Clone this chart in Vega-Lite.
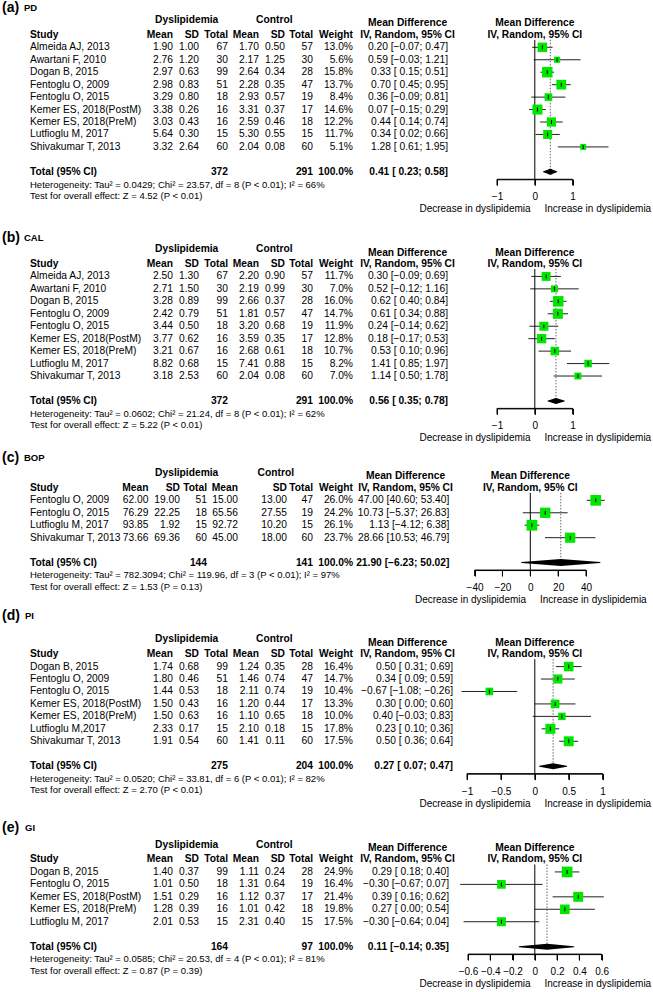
{
"$schema": "https://vega.github.io/schema/vega-lite/v6.json",
"padding": 0,
"background": "white",
"columns": 2,
"bounds": "flush",
"align": "none",
"spacing": {"row": 40, "column": 0},
"resolve": {"scale": {"size": "independent", "x": "independent", "y": "independent"}},
"config": {
  "view": {"stroke": null},
  "text": {"font": "Liberation Sans", "fontSize": 10.25, "baseline": "middle", "align": "right", "color": "black"},
  "axis": {"grid": false, "domain": true, "ticks": true, "domainColor": "black", "tickColor": "black", "labelColor": "black", "titleColor": "black", "labelFont": "Liberation Sans", "titleFont": "Liberation Sans", "labelFontSize": 10, "titleFontSize": 10, "titleFontWeight": "normal", "tickSize": 6, "labelPadding": 6.5, "titlePadding": 2, "labelFlush": false, "labelOverlap": false, "titleLimit": 1000}
},
"datasets": {
"tAB": [{"t":-1},{"t":0},{"t":1}],
"tC": [{"t":-40},{"t":-20},{"t":0},{"t":20},{"t":40}],
"tD": [{"t":-1},{"t":-0.5},{"t":0},{"t":0.5},{"t":1}],
"tE": [{"t":-0.6},{"t":-0.4},{"t":-0.2},{"t":0},{"t":0.2},{"t":0.4},{"t":0.6}],
"pd": [
{"order":0,"study":"Almeida AJ, 2013","m1":1.90,"sd1":1.00,"n1":67,"m2":1.70,"sd2":0.50,"n2":57,"w":0.130,"md":0.20,"lo":-0.07,"hi":0.47,"ci":"0.20 [−0.07; 0.47]"},
{"order":1,"study":"Awartani F, 2010","m1":2.76,"sd1":1.20,"n1":30,"m2":2.17,"sd2":1.25,"n2":30,"w":0.056,"md":0.59,"lo":-0.03,"hi":1.21,"ci":"0.59 [−0.03; 1.21]"},
{"order":2,"study":"Dogan B, 2015","m1":2.97,"sd1":0.63,"n1":99,"m2":2.64,"sd2":0.34,"n2":28,"w":0.158,"md":0.33,"lo":0.15,"hi":0.51,"ci":"0.33 [ 0.15; 0.51]"},
{"order":3,"study":"Fentoglu O, 2009","m1":2.98,"sd1":0.83,"n1":51,"m2":2.28,"sd2":0.35,"n2":47,"w":0.137,"md":0.70,"lo":0.45,"hi":0.95,"ci":"0.70 [ 0.45; 0.95]"},
{"order":4,"study":"Fentoglu O, 2015","m1":3.29,"sd1":0.80,"n1":18,"m2":2.93,"sd2":0.57,"n2":19,"w":0.084,"md":0.36,"lo":-0.09,"hi":0.81,"ci":"0.36 [−0.09; 0.81]"},
{"order":5,"study":"Kemer ES, 2018(PostM)","m1":3.38,"sd1":0.26,"n1":16,"m2":3.31,"sd2":0.37,"n2":17,"w":0.146,"md":0.07,"lo":-0.15,"hi":0.29,"ci":"0.07 [−0.15; 0.29]"},
{"order":6,"study":"Kemer ES, 2018(PreM)","m1":3.03,"sd1":0.43,"n1":16,"m2":2.59,"sd2":0.46,"n2":18,"w":0.122,"md":0.44,"lo":0.14,"hi":0.74,"ci":"0.44 [ 0.14; 0.74]"},
{"order":7,"study":"Lutfioglu M, 2017","m1":5.64,"sd1":0.30,"n1":15,"m2":5.30,"sd2":0.55,"n2":15,"w":0.117,"md":0.34,"lo":0.02,"hi":0.66,"ci":"0.34 [ 0.02; 0.66]"},
{"order":8,"study":"Shivakumar T, 2013","m1":3.32,"sd1":2.64,"n1":60,"m2":2.04,"sd2":0.08,"n2":60,"w":0.051,"md":1.28,"lo":0.61,"hi":1.95,"ci":"1.28 [ 0.61; 1.95]"}
],
"pdT": [{"n1":372,"n2":291,"w":1,"md":0.41,"lo":0.23,"hi":0.58,"ci":"0.41 [ 0.23; 0.58]","het":"Heterogeneity: Tau² = 0.0429; Chi² = 23.57, df = 8 (P < 0.01); I² = 66%","test":"Test for overall effect: Z = 4.52 (P < 0.01)"}],
"cal": [
{"order":0,"study":"Almeida AJ, 2013","m1":2.50,"sd1":1.30,"n1":67,"m2":2.20,"sd2":0.90,"n2":57,"w":0.117,"md":0.30,"lo":-0.09,"hi":0.69,"ci":"0.30 [−0.09; 0.69]"},
{"order":1,"study":"Awartani F, 2010","m1":2.71,"sd1":1.50,"n1":30,"m2":2.19,"sd2":0.99,"n2":30,"w":0.070,"md":0.52,"lo":-0.12,"hi":1.16,"ci":"0.52 [−0.12; 1.16]"},
{"order":2,"study":"Dogan B, 2015","m1":3.28,"sd1":0.89,"n1":99,"m2":2.66,"sd2":0.37,"n2":28,"w":0.160,"md":0.62,"lo":0.40,"hi":0.84,"ci":"0.62 [ 0.40; 0.84]"},
{"order":3,"study":"Fentoglu O, 2009","m1":2.42,"sd1":0.79,"n1":51,"m2":1.81,"sd2":0.57,"n2":47,"w":0.147,"md":0.61,"lo":0.34,"hi":0.88,"ci":"0.61 [ 0.34; 0.88]"},
{"order":4,"study":"Fentoglu O, 2015","m1":3.44,"sd1":0.50,"n1":18,"m2":3.20,"sd2":0.68,"n2":19,"w":0.119,"md":0.24,"lo":-0.14,"hi":0.62,"ci":"0.24 [−0.14; 0.62]"},
{"order":5,"study":"Kemer ES, 2018(PostM)","m1":3.77,"sd1":0.62,"n1":16,"m2":3.59,"sd2":0.35,"n2":17,"w":0.128,"md":0.18,"lo":-0.17,"hi":0.53,"ci":"0.18 [−0.17; 0.53]"},
{"order":6,"study":"Kemer ES, 2018(PreM)","m1":3.21,"sd1":0.67,"n1":16,"m2":2.68,"sd2":0.61,"n2":18,"w":0.107,"md":0.53,"lo":0.10,"hi":0.96,"ci":"0.53 [ 0.10; 0.96]"},
{"order":7,"study":"Lutfioglu M, 2017","m1":8.82,"sd1":0.68,"n1":15,"m2":7.41,"sd2":0.88,"n2":15,"w":0.082,"md":1.41,"lo":0.85,"hi":1.97,"ci":"1.41 [ 0.85; 1.97]"},
{"order":8,"study":"Shivakumar T, 2013","m1":3.18,"sd1":2.53,"n1":60,"m2":2.04,"sd2":0.08,"n2":60,"w":0.070,"md":1.14,"lo":0.50,"hi":1.78,"ci":"1.14 [ 0.50; 1.78]"}
],
"calT": [{"n1":372,"n2":291,"w":1,"md":0.56,"lo":0.35,"hi":0.78,"ci":"0.56 [ 0.35; 0.78]","het":"Heterogeneity: Tau² = 0.0602; Chi² = 21.24, df = 8 (P < 0.01); I² = 62%","test":"Test for overall effect: Z = 5.22 (P < 0.01)"}],
"bop": [
{"order":0,"study":"Fentoglu O, 2009","m1":62.00,"sd1":19.00,"n1":51,"m2":15.00,"sd2":13.00,"n2":47,"w":0.260,"md":47.00,"lo":40.60,"hi":53.40,"ci":"47.00 [40.60; 53.40]"},
{"order":1,"study":"Fentoglu O, 2015","m1":76.29,"sd1":22.25,"n1":18,"m2":65.56,"sd2":27.55,"n2":19,"w":0.242,"md":10.73,"lo":-5.37,"hi":26.83,"ci":"10.73 [−5.37; 26.83]"},
{"order":2,"study":"Lutfioglu M, 2017","m1":93.85,"sd1":1.92,"n1":15,"m2":92.72,"sd2":10.20,"n2":15,"w":0.261,"md":1.13,"lo":-4.12,"hi":6.38,"ci":"1.13 [−4.12; 6.38]"},
{"order":3,"study":"Shivakumar T, 2013","m1":73.66,"sd1":69.36,"n1":60,"m2":45.00,"sd2":18.00,"n2":60,"w":0.237,"md":28.66,"lo":10.53,"hi":46.79,"ci":"28.66 [10.53; 46.79]"}
],
"bopT": [{"n1":144,"n2":141,"w":1,"md":21.90,"lo":-6.23,"hi":50.02,"ci":"21.90 [−6.23; 50.02]","het":"Heterogeneity: Tau² = 782.3094; Chi² = 119.96, df = 3 (P < 0.01); I² = 97%","test":"Test for overall effect: Z = 1.53 (P = 0.13)"}],
"pi": [
{"order":0,"study":"Dogan B, 2015","m1":1.74,"sd1":0.68,"n1":99,"m2":1.24,"sd2":0.35,"n2":28,"w":0.164,"md":0.50,"lo":0.31,"hi":0.69,"ci":"0.50 [ 0.31; 0.69]"},
{"order":1,"study":"Fentoglu O, 2009","m1":1.80,"sd1":0.46,"n1":51,"m2":1.46,"sd2":0.74,"n2":47,"w":0.147,"md":0.34,"lo":0.09,"hi":0.59,"ci":"0.34 [ 0.09; 0.59]"},
{"order":2,"study":"Fentoglu O, 2015","m1":1.44,"sd1":0.53,"n1":18,"m2":2.11,"sd2":0.74,"n2":19,"w":0.104,"md":-0.67,"lo":-1.08,"hi":-0.26,"ci":"−0.67 [−1.08; −0.26]"},
{"order":3,"study":"Kemer ES, 2018(PostM)","m1":1.50,"sd1":0.43,"n1":16,"m2":1.20,"sd2":0.44,"n2":17,"w":0.133,"md":0.30,"lo":0.00,"hi":0.60,"ci":"0.30 [ 0.00; 0.60]"},
{"order":4,"study":"Kemer ES, 2018(PreM)","m1":1.50,"sd1":0.63,"n1":16,"m2":1.10,"sd2":0.65,"n2":18,"w":0.100,"md":0.40,"lo":-0.03,"hi":0.83,"ci":"0.40 [−0.03; 0.83]"},
{"order":5,"study":"Lutfioglu M,2017","m1":2.33,"sd1":0.17,"n1":15,"m2":2.10,"sd2":0.18,"n2":15,"w":0.178,"md":0.23,"lo":0.10,"hi":0.36,"ci":"0.23 [ 0.10; 0.36]"},
{"order":6,"study":"Shivakumar T, 2013","m1":1.91,"sd1":0.54,"n1":60,"m2":1.41,"sd2":0.11,"n2":60,"w":0.175,"md":0.50,"lo":0.36,"hi":0.64,"ci":"0.50 [ 0.36; 0.64]"}
],
"piT": [{"n1":275,"n2":204,"w":1,"md":0.27,"lo":0.07,"hi":0.47,"ci":"0.27 [ 0.07; 0.47]","het":"Heterogeneity: Tau² = 0.0520; Chi² = 33.81, df = 6 (P < 0.01); I² = 82%","test":"Test for overall effect: Z = 2.70 (P < 0.01)"}],
"gi": [
{"order":0,"study":"Dogan B, 2015","m1":1.40,"sd1":0.37,"n1":99,"m2":1.11,"sd2":0.24,"n2":28,"w":0.249,"md":0.29,"lo":0.18,"hi":0.40,"ci":"0.29 [ 0.18; 0.40]"},
{"order":1,"study":"Fentoglu O, 2015","m1":1.01,"sd1":0.50,"n1":18,"m2":1.31,"sd2":0.64,"n2":19,"w":0.164,"md":-0.30,"lo":-0.67,"hi":0.07,"ci":"−0.30 [−0.67; 0.07]"},
{"order":2,"study":"Kemer ES, 2018(PostM)","m1":1.51,"sd1":0.29,"n1":16,"m2":1.12,"sd2":0.37,"n2":17,"w":0.214,"md":0.39,"lo":0.16,"hi":0.62,"ci":"0.39 [ 0.16; 0.62]"},
{"order":3,"study":"Kemer ES, 2018(PreM)","m1":1.28,"sd1":0.39,"n1":16,"m2":1.01,"sd2":0.42,"n2":18,"w":0.198,"md":0.27,"lo":0.00,"hi":0.54,"ci":"0.27 [ 0.00; 0.54]"},
{"order":4,"study":"Lutfioglu M, 2017","m1":2.01,"sd1":0.53,"n1":15,"m2":2.31,"sd2":0.40,"n2":15,"w":0.175,"md":-0.30,"lo":-0.64,"hi":0.04,"ci":"−0.30 [−0.64; 0.04]"}
],
"giT": [{"n1":164,"n2":97,"w":1,"md":0.11,"lo":-0.14,"hi":0.35,"ci":"0.11 [−0.14; 0.35]","het":"Heterogeneity: Tau² = 0.0585; Chi² = 20.53, df = 4 (P < 0.01); I² = 81%","test":"Test for overall effect: Z = 0.87 (P = 0.39)"}]
},
"concat": [
{"width":466.7,"height":179.28,"data":{"name":"pd"},
"layer":[
{"mark":{"type":"text","align":"left"},"encoding":{"x":{"datum":30,"type":"quantitative","scale":{"domain":[0,466.7],"nice":false,"zero":false},"axis":null},"y":{"field":"order","type":"quantitative","scale":{"domain":[-3.8,10.6],"reverse":true,"nice":false,"zero":false},"axis":null},"text":{"field":"study"}}},
{"mark":"text","encoding":{"x":{"datum":173,"type":"quantitative","axis":null},"y":{"field":"order","type":"quantitative","axis":null},"text":{"field":"m1","format":".2f"}}},
{"mark":"text","encoding":{"x":{"datum":199,"type":"quantitative","axis":null},"y":{"field":"order","type":"quantitative","axis":null},"text":{"field":"sd1","format":".2f"}}},
{"mark":"text","encoding":{"x":{"datum":228,"type":"quantitative","axis":null},"y":{"field":"order","type":"quantitative","axis":null},"text":{"field":"n1"}}},
{"mark":"text","encoding":{"x":{"datum":259,"type":"quantitative","axis":null},"y":{"field":"order","type":"quantitative","axis":null},"text":{"field":"m2","format":".2f"}}},
{"mark":"text","encoding":{"x":{"datum":285,"type":"quantitative","axis":null},"y":{"field":"order","type":"quantitative","axis":null},"text":{"field":"sd2","format":".2f"}}},
{"mark":"text","encoding":{"x":{"datum":313,"type":"quantitative","axis":null},"y":{"field":"order","type":"quantitative","axis":null},"text":{"field":"n2"}}},
{"mark":"text","encoding":{"x":{"datum":353,"type":"quantitative","axis":null},"y":{"field":"order","type":"quantitative","axis":null},"text":{"field":"w","format":".1%"}}},
{"mark":"text","encoding":{"x":{"datum":448,"type":"quantitative","axis":null},"y":{"field":"order","type":"quantitative","axis":null},"text":{"field":"ci"}}},
{"data":{"name":"pdT"},"mark":{"type":"text","align":"left","fontWeight":"bold","fontSize":14},"encoding":{"x":{"datum":2,"type":"quantitative","axis":null},"y":{"datum":-3.15,"type":"quantitative","axis":null},"text":{"value":"(a)"}}},
{"data":{"name":"pdT"},"mark":{"type":"text","align":"left","fontWeight":"bold","fontSize":9.5},"encoding":{"x":{"datum":24,"type":"quantitative","axis":null},"y":{"datum":-3.15,"type":"quantitative","axis":null},"text":{"value":"PD"}}},
{"data":{"name":"pdT"},"mark":{"type":"text","align":"center","fontWeight":"bold"},"encoding":{"x":{"datum":186.7,"type":"quantitative","axis":null},"y":{"datum":-2.2,"type":"quantitative","axis":null},"text":{"value":"Dyslipidemia"}}},
{"data":{"name":"pdT"},"mark":{"type":"text","align":"center","fontWeight":"bold"},"encoding":{"x":{"datum":274.3,"type":"quantitative","axis":null},"y":{"datum":-2.2,"type":"quantitative","axis":null},"text":{"value":"Control"}}},
{"data":{"name":"pdT"},"mark":{"type":"text","align":"center","fontWeight":"bold"},"encoding":{"x":{"datum":407.5,"type":"quantitative","axis":null},"y":{"datum":-1.92,"type":"quantitative","axis":null},"text":{"value":"Mean Difference"}}},
{"data":{"name":"pdT"},"mark":{"type":"text","align":"left","fontWeight":"bold"},"encoding":{"x":{"datum":30,"type":"quantitative","axis":null},"y":{"datum":-1,"type":"quantitative","axis":null},"text":{"value":"Study"}}},
{"data":{"name":"pdT"},"mark":{"type":"text","fontWeight":"bold"},"encoding":{"x":{"datum":173,"type":"quantitative","axis":null},"y":{"datum":-1,"type":"quantitative","axis":null},"text":{"value":"Mean"}}},
{"data":{"name":"pdT"},"mark":{"type":"text","fontWeight":"bold"},"encoding":{"x":{"datum":199,"type":"quantitative","axis":null},"y":{"datum":-1,"type":"quantitative","axis":null},"text":{"value":"SD"}}},
{"data":{"name":"pdT"},"mark":{"type":"text","fontWeight":"bold"},"encoding":{"x":{"datum":228,"type":"quantitative","axis":null},"y":{"datum":-1,"type":"quantitative","axis":null},"text":{"value":"Total"}}},
{"data":{"name":"pdT"},"mark":{"type":"text","fontWeight":"bold"},"encoding":{"x":{"datum":259,"type":"quantitative","axis":null},"y":{"datum":-1,"type":"quantitative","axis":null},"text":{"value":"Mean"}}},
{"data":{"name":"pdT"},"mark":{"type":"text","fontWeight":"bold"},"encoding":{"x":{"datum":285,"type":"quantitative","axis":null},"y":{"datum":-1,"type":"quantitative","axis":null},"text":{"value":"SD"}}},
{"data":{"name":"pdT"},"mark":{"type":"text","fontWeight":"bold"},"encoding":{"x":{"datum":313,"type":"quantitative","axis":null},"y":{"datum":-1,"type":"quantitative","axis":null},"text":{"value":"Total"}}},
{"data":{"name":"pdT"},"mark":{"type":"text","fontWeight":"bold"},"encoding":{"x":{"datum":353,"type":"quantitative","axis":null},"y":{"datum":-1,"type":"quantitative","axis":null},"text":{"value":"Weight"}}},
{"data":{"name":"pdT"},"mark":{"type":"text","align":"center","fontWeight":"bold"},"encoding":{"x":{"datum":407.5,"type":"quantitative","axis":null},"y":{"datum":-1,"type":"quantitative","axis":null},"text":{"value":"IV, Random, 95% CI"}}},
{"data":{"name":"pdT"},"mark":{"type":"text","align":"left","fontWeight":"bold"},"encoding":{"x":{"datum":30,"type":"quantitative","axis":null},"y":{"datum":10,"type":"quantitative","axis":null},"text":{"value":"Total (95% CI)"}}},
{"data":{"name":"pdT"},"mark":{"type":"text","fontWeight":"bold"},"encoding":{"x":{"datum":228,"type":"quantitative","axis":null},"y":{"datum":10,"type":"quantitative","axis":null},"text":{"field":"n1"}}},
{"data":{"name":"pdT"},"mark":{"type":"text","fontWeight":"bold"},"encoding":{"x":{"datum":313,"type":"quantitative","axis":null},"y":{"datum":10,"type":"quantitative","axis":null},"text":{"field":"n2"}}},
{"data":{"name":"pdT"},"mark":{"type":"text","fontWeight":"bold"},"encoding":{"x":{"datum":353,"type":"quantitative","axis":null},"y":{"datum":10,"type":"quantitative","axis":null},"text":{"field":"w","format":".1%"}}},
{"data":{"name":"pdT"},"mark":{"type":"text","fontWeight":"bold"},"encoding":{"x":{"datum":448,"type":"quantitative","axis":null},"y":{"datum":10,"type":"quantitative","axis":null},"text":{"field":"ci"}}},
{"data":{"name":"pdT"},"mark":{"type":"text","align":"left","fontSize":9.5},"encoding":{"x":{"datum":30,"type":"quantitative","axis":null},"y":{"datum":11.02,"type":"quantitative","axis":null},"text":{"field":"het"}}},
{"data":{"name":"pdT"},"mark":{"type":"text","align":"left","fontSize":9.5},"encoding":{"x":{"datum":30,"type":"quantitative","axis":null},"y":{"datum":11.95,"type":"quantitative","axis":null},"text":{"field":"test"}}}
]},
{"width":186.3,"height":179.28,
"layer":[
{"data":{"name":"pd"},"mark":{"type":"rule","color":"#222","strokeWidth":1},"encoding":{"x":{"field":"lo","type":"quantitative","scale":{"domain":[-1,1],"range":[30,105.6],"nice":false,"zero":false},"axis":{"values":[-1,0,1],"format":"~r","labelOverlap":false,"labelFlush":false,"domain":true,"ticks":true,"title":"Decrease in dyslipidemia\u00a0\u00a0\u00a0\u00a0 Increase in dyslipidemia"}},"x2":{"field":"hi"},"y":{"field":"order","type":"quantitative","scale":{"domain":[-3.8,10.6],"reverse":true,"nice":false,"zero":false},"axis":null}}},
{"data":{"name":"pdT"},"mark":{"type":"rule","color":"black","strokeWidth":1},"encoding":{"x":{"datum":-1,"type":"quantitative","axis":{"values":[-1,0,1],"format":"~r","labelOverlap":false,"labelFlush":false,"domain":true,"ticks":true,"title":"Decrease in dyslipidemia\u00a0\u00a0\u00a0\u00a0 Increase in dyslipidemia"}},"x2":{"datum":1},"y":{"datum":10.6,"type":"quantitative","axis":null}}},
{"data":{"name":"tAB"},"mark":{"type":"rule","color":"black","strokeWidth":1},"encoding":{"x":{"field":"t","type":"quantitative","axis":{"values":[-1,0,1],"format":"~r","labelOverlap":false,"labelFlush":false,"domain":true,"ticks":true,"title":"Decrease in dyslipidemia\u00a0\u00a0\u00a0\u00a0 Increase in dyslipidemia"}},"y":{"datum":10.6,"type":"quantitative","axis":null},"y2":{"datum":11.08}}},
{"data":{"name":"pdT"},"mark":{"type":"rule","color":"black","strokeWidth":1},"encoding":{"x":{"datum":0,"type":"quantitative","axis":{"values":[-1,0,1],"format":"~r","labelOverlap":false,"labelFlush":false,"domain":true,"ticks":true,"title":"Decrease in dyslipidemia\u00a0\u00a0\u00a0\u00a0 Increase in dyslipidemia"}},"y":{"datum":-0.6,"type":"quantitative","axis":null},"y2":{"datum":10.6}}},
{"data":{"name":"pdT"},"mark":{"type":"rule","color":"#666","strokeWidth":1,"strokeDash":[1.5,1.5]},"encoding":{"x":{"field":"md","type":"quantitative","axis":{"values":[-1,0,1],"format":"~r","labelOverlap":false,"labelFlush":false,"domain":true,"ticks":true,"title":"Decrease in dyslipidemia\u00a0\u00a0\u00a0\u00a0 Increase in dyslipidemia"}},"y":{"datum":-0.6,"type":"quantitative","axis":null},"y2":{"datum":10}}},
{"data":{"name":"pd"},"mark":{"type":"point","shape":"square","filled":true,"color":"#00e600","opacity":1},"encoding":{"x":{"field":"md","type":"quantitative","axis":{"values":[-1,0,1],"format":"~r","labelOverlap":false,"labelFlush":false,"domain":true,"ticks":true,"title":"Decrease in dyslipidemia\u00a0\u00a0\u00a0\u00a0 Increase in dyslipidemia"}},"y":{"field":"order","type":"quantitative","axis":null},"size":{"field":"w","type":"quantitative","scale":{"domain":[0,0.158],"range":[0,110]},"legend":null}}},
{"data":{"name":"pd"},"mark":{"type":"tick","orient":"vertical","color":"black","size":4,"thickness":1,"opacity":1},"encoding":{"x":{"field":"md","type":"quantitative","axis":{"values":[-1,0,1],"format":"~r","labelOverlap":false,"labelFlush":false,"domain":true,"ticks":true,"title":"Decrease in dyslipidemia\u00a0\u00a0\u00a0\u00a0 Increase in dyslipidemia"}},"y":{"field":"order","type":"quantitative","axis":null}}},
{"data":{"name":"pdT"},"transform":[{"fold":["lo","md","hi"],"as":["k","v"]}],"mark":{"type":"trail","color":"black"},"encoding":{"x":{"field":"v","type":"quantitative","axis":{"values":[-1,0,1],"format":"~r","labelOverlap":false,"labelFlush":false,"domain":true,"ticks":true,"title":"Decrease in dyslipidemia\u00a0\u00a0\u00a0\u00a0 Increase in dyslipidemia"}},"y":{"datum":10,"type":"quantitative","axis":null},"size":{"condition":{"test":"datum.k === 'md'","value":6},"value":0}}},
{"data":{"name":"pdT"},"mark":{"type":"text","align":"center","fontWeight":"bold"},"encoding":{"x":{"datum":0,"type":"quantitative","axis":{"values":[-1,0,1],"format":"~r","labelOverlap":false,"labelFlush":false,"domain":true,"ticks":true,"title":"Decrease in dyslipidemia\u00a0\u00a0\u00a0\u00a0 Increase in dyslipidemia"}},"y":{"datum":-1.92,"type":"quantitative","axis":null},"text":{"value":"Mean Difference"}}},
{"data":{"name":"pdT"},"mark":{"type":"text","align":"center","fontWeight":"bold"},"encoding":{"x":{"datum":0,"type":"quantitative","axis":{"values":[-1,0,1],"format":"~r","labelOverlap":false,"labelFlush":false,"domain":true,"ticks":true,"title":"Decrease in dyslipidemia\u00a0\u00a0\u00a0\u00a0 Increase in dyslipidemia"}},"y":{"datum":-1,"type":"quantitative","axis":null},"text":{"value":"IV, Random, 95% CI"}}}
]},

{"width":466.7,"height":188.39,"data":{"name":"cal"},
"layer":[
{"mark":{"type":"text","align":"left"},"encoding":{"x":{"datum":30,"type":"quantitative","scale":{"domain":[0,466.7],"nice":false,"zero":false},"axis":null},"y":{"field":"order","type":"quantitative","scale":{"domain":[-4.532,10.6],"reverse":true,"nice":false,"zero":false},"axis":null},"text":{"field":"study"}}},
{"mark":"text","encoding":{"x":{"datum":173,"type":"quantitative","axis":null},"y":{"field":"order","type":"quantitative","axis":null},"text":{"field":"m1","format":".2f"}}},
{"mark":"text","encoding":{"x":{"datum":199,"type":"quantitative","axis":null},"y":{"field":"order","type":"quantitative","axis":null},"text":{"field":"sd1","format":".2f"}}},
{"mark":"text","encoding":{"x":{"datum":228,"type":"quantitative","axis":null},"y":{"field":"order","type":"quantitative","axis":null},"text":{"field":"n1"}}},
{"mark":"text","encoding":{"x":{"datum":259,"type":"quantitative","axis":null},"y":{"field":"order","type":"quantitative","axis":null},"text":{"field":"m2","format":".2f"}}},
{"mark":"text","encoding":{"x":{"datum":285,"type":"quantitative","axis":null},"y":{"field":"order","type":"quantitative","axis":null},"text":{"field":"sd2","format":".2f"}}},
{"mark":"text","encoding":{"x":{"datum":313,"type":"quantitative","axis":null},"y":{"field":"order","type":"quantitative","axis":null},"text":{"field":"n2"}}},
{"mark":"text","encoding":{"x":{"datum":353,"type":"quantitative","axis":null},"y":{"field":"order","type":"quantitative","axis":null},"text":{"field":"w","format":".1%"}}},
{"mark":"text","encoding":{"x":{"datum":448,"type":"quantitative","axis":null},"y":{"field":"order","type":"quantitative","axis":null},"text":{"field":"ci"}}},
{"data":{"name":"calT"},"mark":{"type":"text","align":"left","fontWeight":"bold","fontSize":14},"encoding":{"x":{"datum":2,"type":"quantitative","axis":null},"y":{"datum":-3.08,"type":"quantitative","axis":null},"text":{"value":"(b)"}}},
{"data":{"name":"calT"},"mark":{"type":"text","align":"left","fontWeight":"bold","fontSize":9.5},"encoding":{"x":{"datum":24,"type":"quantitative","axis":null},"y":{"datum":-3.08,"type":"quantitative","axis":null},"text":{"value":"CAL"}}},
{"data":{"name":"calT"},"mark":{"type":"text","align":"center","fontWeight":"bold"},"encoding":{"x":{"datum":186.7,"type":"quantitative","axis":null},"y":{"datum":-2.2,"type":"quantitative","axis":null},"text":{"value":"Dyslipidemia"}}},
{"data":{"name":"calT"},"mark":{"type":"text","align":"center","fontWeight":"bold"},"encoding":{"x":{"datum":274.3,"type":"quantitative","axis":null},"y":{"datum":-2.2,"type":"quantitative","axis":null},"text":{"value":"Control"}}},
{"data":{"name":"calT"},"mark":{"type":"text","align":"center","fontWeight":"bold"},"encoding":{"x":{"datum":407.5,"type":"quantitative","axis":null},"y":{"datum":-1.92,"type":"quantitative","axis":null},"text":{"value":"Mean Difference"}}},
{"data":{"name":"calT"},"mark":{"type":"text","align":"left","fontWeight":"bold"},"encoding":{"x":{"datum":30,"type":"quantitative","axis":null},"y":{"datum":-1,"type":"quantitative","axis":null},"text":{"value":"Study"}}},
{"data":{"name":"calT"},"mark":{"type":"text","fontWeight":"bold"},"encoding":{"x":{"datum":173,"type":"quantitative","axis":null},"y":{"datum":-1,"type":"quantitative","axis":null},"text":{"value":"Mean"}}},
{"data":{"name":"calT"},"mark":{"type":"text","fontWeight":"bold"},"encoding":{"x":{"datum":199,"type":"quantitative","axis":null},"y":{"datum":-1,"type":"quantitative","axis":null},"text":{"value":"SD"}}},
{"data":{"name":"calT"},"mark":{"type":"text","fontWeight":"bold"},"encoding":{"x":{"datum":228,"type":"quantitative","axis":null},"y":{"datum":-1,"type":"quantitative","axis":null},"text":{"value":"Total"}}},
{"data":{"name":"calT"},"mark":{"type":"text","fontWeight":"bold"},"encoding":{"x":{"datum":259,"type":"quantitative","axis":null},"y":{"datum":-1,"type":"quantitative","axis":null},"text":{"value":"Mean"}}},
{"data":{"name":"calT"},"mark":{"type":"text","fontWeight":"bold"},"encoding":{"x":{"datum":285,"type":"quantitative","axis":null},"y":{"datum":-1,"type":"quantitative","axis":null},"text":{"value":"SD"}}},
{"data":{"name":"calT"},"mark":{"type":"text","fontWeight":"bold"},"encoding":{"x":{"datum":313,"type":"quantitative","axis":null},"y":{"datum":-1,"type":"quantitative","axis":null},"text":{"value":"Total"}}},
{"data":{"name":"calT"},"mark":{"type":"text","fontWeight":"bold"},"encoding":{"x":{"datum":353,"type":"quantitative","axis":null},"y":{"datum":-1,"type":"quantitative","axis":null},"text":{"value":"Weight"}}},
{"data":{"name":"calT"},"mark":{"type":"text","align":"center","fontWeight":"bold"},"encoding":{"x":{"datum":407.5,"type":"quantitative","axis":null},"y":{"datum":-1,"type":"quantitative","axis":null},"text":{"value":"IV, Random, 95% CI"}}},
{"data":{"name":"calT"},"mark":{"type":"text","align":"left","fontWeight":"bold"},"encoding":{"x":{"datum":30,"type":"quantitative","axis":null},"y":{"datum":10,"type":"quantitative","axis":null},"text":{"value":"Total (95% CI)"}}},
{"data":{"name":"calT"},"mark":{"type":"text","fontWeight":"bold"},"encoding":{"x":{"datum":228,"type":"quantitative","axis":null},"y":{"datum":10,"type":"quantitative","axis":null},"text":{"field":"n1"}}},
{"data":{"name":"calT"},"mark":{"type":"text","fontWeight":"bold"},"encoding":{"x":{"datum":313,"type":"quantitative","axis":null},"y":{"datum":10,"type":"quantitative","axis":null},"text":{"field":"n2"}}},
{"data":{"name":"calT"},"mark":{"type":"text","fontWeight":"bold"},"encoding":{"x":{"datum":353,"type":"quantitative","axis":null},"y":{"datum":10,"type":"quantitative","axis":null},"text":{"field":"w","format":".1%"}}},
{"data":{"name":"calT"},"mark":{"type":"text","fontWeight":"bold"},"encoding":{"x":{"datum":448,"type":"quantitative","axis":null},"y":{"datum":10,"type":"quantitative","axis":null},"text":{"field":"ci"}}},
{"data":{"name":"calT"},"mark":{"type":"text","align":"left","fontSize":9.5},"encoding":{"x":{"datum":30,"type":"quantitative","axis":null},"y":{"datum":11.02,"type":"quantitative","axis":null},"text":{"field":"het"}}},
{"data":{"name":"calT"},"mark":{"type":"text","align":"left","fontSize":9.5},"encoding":{"x":{"datum":30,"type":"quantitative","axis":null},"y":{"datum":11.95,"type":"quantitative","axis":null},"text":{"field":"test"}}}
]},
{"width":186.3,"height":188.39,
"layer":[
{"data":{"name":"cal"},"mark":{"type":"rule","color":"#222","strokeWidth":1},"encoding":{"x":{"field":"lo","type":"quantitative","scale":{"domain":[-1,1],"range":[30,105.6],"nice":false,"zero":false},"axis":{"values":[-1,0,1],"format":"~r","labelOverlap":false,"labelFlush":false,"domain":true,"ticks":true,"title":"Decrease in dyslipidemia\u00a0\u00a0\u00a0\u00a0 Increase in dyslipidemia"}},"x2":{"field":"hi"},"y":{"field":"order","type":"quantitative","scale":{"domain":[-4.532,10.6],"reverse":true,"nice":false,"zero":false},"axis":null}}},
{"data":{"name":"calT"},"mark":{"type":"rule","color":"black","strokeWidth":1},"encoding":{"x":{"datum":-1,"type":"quantitative","axis":{"values":[-1,0,1],"format":"~r","labelOverlap":false,"labelFlush":false,"domain":true,"ticks":true,"title":"Decrease in dyslipidemia\u00a0\u00a0\u00a0\u00a0 Increase in dyslipidemia"}},"x2":{"datum":1},"y":{"datum":10.6,"type":"quantitative","axis":null}}},
{"data":{"name":"tAB"},"mark":{"type":"rule","color":"black","strokeWidth":1},"encoding":{"x":{"field":"t","type":"quantitative","axis":{"values":[-1,0,1],"format":"~r","labelOverlap":false,"labelFlush":false,"domain":true,"ticks":true,"title":"Decrease in dyslipidemia\u00a0\u00a0\u00a0\u00a0 Increase in dyslipidemia"}},"y":{"datum":10.6,"type":"quantitative","axis":null},"y2":{"datum":11.08}}},
{"data":{"name":"calT"},"mark":{"type":"rule","color":"black","strokeWidth":1},"encoding":{"x":{"datum":0,"type":"quantitative","axis":{"values":[-1,0,1],"format":"~r","labelOverlap":false,"labelFlush":false,"domain":true,"ticks":true,"title":"Decrease in dyslipidemia\u00a0\u00a0\u00a0\u00a0 Increase in dyslipidemia"}},"y":{"datum":-0.6,"type":"quantitative","axis":null},"y2":{"datum":10.6}}},
{"data":{"name":"calT"},"mark":{"type":"rule","color":"#666","strokeWidth":1,"strokeDash":[1.5,1.5]},"encoding":{"x":{"field":"md","type":"quantitative","axis":{"values":[-1,0,1],"format":"~r","labelOverlap":false,"labelFlush":false,"domain":true,"ticks":true,"title":"Decrease in dyslipidemia\u00a0\u00a0\u00a0\u00a0 Increase in dyslipidemia"}},"y":{"datum":-0.6,"type":"quantitative","axis":null},"y2":{"datum":10}}},
{"data":{"name":"cal"},"mark":{"type":"point","shape":"square","filled":true,"color":"#00e600","opacity":1},"encoding":{"x":{"field":"md","type":"quantitative","axis":{"values":[-1,0,1],"format":"~r","labelOverlap":false,"labelFlush":false,"domain":true,"ticks":true,"title":"Decrease in dyslipidemia\u00a0\u00a0\u00a0\u00a0 Increase in dyslipidemia"}},"y":{"field":"order","type":"quantitative","axis":null},"size":{"field":"w","type":"quantitative","scale":{"domain":[0,0.16],"range":[0,110]},"legend":null}}},
{"data":{"name":"cal"},"mark":{"type":"tick","orient":"vertical","color":"black","size":4,"thickness":1,"opacity":1},"encoding":{"x":{"field":"md","type":"quantitative","axis":{"values":[-1,0,1],"format":"~r","labelOverlap":false,"labelFlush":false,"domain":true,"ticks":true,"title":"Decrease in dyslipidemia\u00a0\u00a0\u00a0\u00a0 Increase in dyslipidemia"}},"y":{"field":"order","type":"quantitative","axis":null}}},
{"data":{"name":"calT"},"transform":[{"fold":["lo","md","hi"],"as":["k","v"]}],"mark":{"type":"trail","color":"black"},"encoding":{"x":{"field":"v","type":"quantitative","axis":{"values":[-1,0,1],"format":"~r","labelOverlap":false,"labelFlush":false,"domain":true,"ticks":true,"title":"Decrease in dyslipidemia\u00a0\u00a0\u00a0\u00a0 Increase in dyslipidemia"}},"y":{"datum":10,"type":"quantitative","axis":null},"size":{"condition":{"test":"datum.k === 'md'","value":6},"value":0}}},
{"data":{"name":"calT"},"mark":{"type":"text","align":"center","fontWeight":"bold"},"encoding":{"x":{"datum":0,"type":"quantitative","axis":{"values":[-1,0,1],"format":"~r","labelOverlap":false,"labelFlush":false,"domain":true,"ticks":true,"title":"Decrease in dyslipidemia\u00a0\u00a0\u00a0\u00a0 Increase in dyslipidemia"}},"y":{"datum":-1.92,"type":"quantitative","axis":null},"text":{"value":"Mean Difference"}}},
{"data":{"name":"calT"},"mark":{"type":"text","align":"center","fontWeight":"bold"},"encoding":{"x":{"datum":0,"type":"quantitative","axis":{"values":[-1,0,1],"format":"~r","labelOverlap":false,"labelFlush":false,"domain":true,"ticks":true,"title":"Decrease in dyslipidemia\u00a0\u00a0\u00a0\u00a0 Increase in dyslipidemia"}},"y":{"datum":-1,"type":"quantitative","axis":null},"text":{"value":"IV, Random, 95% CI"}}}
]},

{"width":466.7,"height":121.05,"data":{"name":"bop"},
"layer":[
{"mark":{"type":"text","align":"left"},"encoding":{"x":{"datum":30,"type":"quantitative","scale":{"domain":[0,466.7],"nice":false,"zero":false},"axis":null},"y":{"field":"order","type":"quantitative","scale":{"domain":[-4.123,5.6],"reverse":true,"nice":false,"zero":false},"axis":null},"text":{"field":"study"}}},
{"mark":"text","encoding":{"x":{"datum":148.5,"type":"quantitative","axis":null},"y":{"field":"order","type":"quantitative","axis":null},"text":{"field":"m1","format":".2f"}}},
{"mark":"text","encoding":{"x":{"datum":180,"type":"quantitative","axis":null},"y":{"field":"order","type":"quantitative","axis":null},"text":{"field":"sd1","format":".2f"}}},
{"mark":"text","encoding":{"x":{"datum":207,"type":"quantitative","axis":null},"y":{"field":"order","type":"quantitative","axis":null},"text":{"field":"n1"}}},
{"mark":"text","encoding":{"x":{"datum":238,"type":"quantitative","axis":null},"y":{"field":"order","type":"quantitative","axis":null},"text":{"field":"m2","format":".2f"}}},
{"mark":"text","encoding":{"x":{"datum":287,"type":"quantitative","axis":null},"y":{"field":"order","type":"quantitative","axis":null},"text":{"field":"sd2","format":".2f"}}},
{"mark":"text","encoding":{"x":{"datum":313,"type":"quantitative","axis":null},"y":{"field":"order","type":"quantitative","axis":null},"text":{"field":"n2"}}},
{"mark":"text","encoding":{"x":{"datum":353,"type":"quantitative","axis":null},"y":{"field":"order","type":"quantitative","axis":null},"text":{"field":"w","format":".1%"}}},
{"mark":"text","encoding":{"x":{"datum":449.3,"type":"quantitative","axis":null},"y":{"field":"order","type":"quantitative","axis":null},"text":{"field":"ci"}}},
{"data":{"name":"bopT"},"mark":{"type":"text","align":"left","fontWeight":"bold","fontSize":14},"encoding":{"x":{"datum":2,"type":"quantitative","axis":null},"y":{"datum":-3.4,"type":"quantitative","axis":null},"text":{"value":"(c)"}}},
{"data":{"name":"bopT"},"mark":{"type":"text","align":"left","fontWeight":"bold","fontSize":9.5},"encoding":{"x":{"datum":24,"type":"quantitative","axis":null},"y":{"datum":-3.4,"type":"quantitative","axis":null},"text":{"value":"BOP"}}},
{"data":{"name":"bopT"},"mark":{"type":"text","align":"center","fontWeight":"bold"},"encoding":{"x":{"datum":186.7,"type":"quantitative","axis":null},"y":{"datum":-2.2,"type":"quantitative","axis":null},"text":{"value":"Dyslipidemia"}}},
{"data":{"name":"bopT"},"mark":{"type":"text","align":"center","fontWeight":"bold"},"encoding":{"x":{"datum":275.8,"type":"quantitative","axis":null},"y":{"datum":-2.2,"type":"quantitative","axis":null},"text":{"value":"Control"}}},
{"data":{"name":"bopT"},"mark":{"type":"text","align":"center","fontWeight":"bold"},"encoding":{"x":{"datum":405.5,"type":"quantitative","axis":null},"y":{"datum":-1.92,"type":"quantitative","axis":null},"text":{"value":"Mean Difference"}}},
{"data":{"name":"bopT"},"mark":{"type":"text","align":"left","fontWeight":"bold"},"encoding":{"x":{"datum":30,"type":"quantitative","axis":null},"y":{"datum":-1,"type":"quantitative","axis":null},"text":{"value":"Study"}}},
{"data":{"name":"bopT"},"mark":{"type":"text","fontWeight":"bold"},"encoding":{"x":{"datum":148.5,"type":"quantitative","axis":null},"y":{"datum":-1,"type":"quantitative","axis":null},"text":{"value":"Mean"}}},
{"data":{"name":"bopT"},"mark":{"type":"text","fontWeight":"bold"},"encoding":{"x":{"datum":180,"type":"quantitative","axis":null},"y":{"datum":-1,"type":"quantitative","axis":null},"text":{"value":"SD"}}},
{"data":{"name":"bopT"},"mark":{"type":"text","fontWeight":"bold"},"encoding":{"x":{"datum":207,"type":"quantitative","axis":null},"y":{"datum":-1,"type":"quantitative","axis":null},"text":{"value":"Total"}}},
{"data":{"name":"bopT"},"mark":{"type":"text","fontWeight":"bold"},"encoding":{"x":{"datum":238,"type":"quantitative","axis":null},"y":{"datum":-1,"type":"quantitative","axis":null},"text":{"value":"Mean"}}},
{"data":{"name":"bopT"},"mark":{"type":"text","fontWeight":"bold"},"encoding":{"x":{"datum":287,"type":"quantitative","axis":null},"y":{"datum":-1,"type":"quantitative","axis":null},"text":{"value":"SD"}}},
{"data":{"name":"bopT"},"mark":{"type":"text","fontWeight":"bold"},"encoding":{"x":{"datum":313,"type":"quantitative","axis":null},"y":{"datum":-1,"type":"quantitative","axis":null},"text":{"value":"Total"}}},
{"data":{"name":"bopT"},"mark":{"type":"text","fontWeight":"bold"},"encoding":{"x":{"datum":353,"type":"quantitative","axis":null},"y":{"datum":-1,"type":"quantitative","axis":null},"text":{"value":"Weight"}}},
{"data":{"name":"bopT"},"mark":{"type":"text","align":"center","fontWeight":"bold"},"encoding":{"x":{"datum":405.5,"type":"quantitative","axis":null},"y":{"datum":-1,"type":"quantitative","axis":null},"text":{"value":"IV, Random, 95% CI"}}},
{"data":{"name":"bopT"},"mark":{"type":"text","align":"left","fontWeight":"bold"},"encoding":{"x":{"datum":30,"type":"quantitative","axis":null},"y":{"datum":5,"type":"quantitative","axis":null},"text":{"value":"Total (95% CI)"}}},
{"data":{"name":"bopT"},"mark":{"type":"text","fontWeight":"bold"},"encoding":{"x":{"datum":207,"type":"quantitative","axis":null},"y":{"datum":5,"type":"quantitative","axis":null},"text":{"field":"n1"}}},
{"data":{"name":"bopT"},"mark":{"type":"text","fontWeight":"bold"},"encoding":{"x":{"datum":313,"type":"quantitative","axis":null},"y":{"datum":5,"type":"quantitative","axis":null},"text":{"field":"n2"}}},
{"data":{"name":"bopT"},"mark":{"type":"text","fontWeight":"bold"},"encoding":{"x":{"datum":353,"type":"quantitative","axis":null},"y":{"datum":5,"type":"quantitative","axis":null},"text":{"field":"w","format":".1%"}}},
{"data":{"name":"bopT"},"mark":{"type":"text","fontWeight":"bold"},"encoding":{"x":{"datum":449.3,"type":"quantitative","axis":null},"y":{"datum":5,"type":"quantitative","axis":null},"text":{"field":"ci"}}},
{"data":{"name":"bopT"},"mark":{"type":"text","align":"left","fontSize":9.5},"encoding":{"x":{"datum":30,"type":"quantitative","axis":null},"y":{"datum":6.02,"type":"quantitative","axis":null},"text":{"field":"het"}}},
{"data":{"name":"bopT"},"mark":{"type":"text","align":"left","fontSize":9.5},"encoding":{"x":{"datum":30,"type":"quantitative","axis":null},"y":{"datum":6.95,"type":"quantitative","axis":null},"text":{"field":"test"}}}
]},
{"width":186.3,"height":121.05,
"layer":[
{"data":{"name":"bop"},"mark":{"type":"rule","color":"#222","strokeWidth":1},"encoding":{"x":{"field":"lo","type":"quantitative","scale":{"domain":[-40,40],"range":[7.6,119],"nice":false,"zero":false},"axis":{"values":[-40,-20,0,20,40],"format":"~r","labelOverlap":false,"labelFlush":false,"domain":true,"ticks":true,"title":"Decrease in dyslipidemia\u00a0\u00a0\u00a0\u00a0 Increase in dyslipidemia"}},"x2":{"field":"hi"},"y":{"field":"order","type":"quantitative","scale":{"domain":[-4.123,5.6],"reverse":true,"nice":false,"zero":false},"axis":null}}},
{"data":{"name":"bopT"},"mark":{"type":"rule","color":"black","strokeWidth":1},"encoding":{"x":{"datum":-40,"type":"quantitative","axis":{"values":[-40,-20,0,20,40],"format":"~r","labelOverlap":false,"labelFlush":false,"domain":true,"ticks":true,"title":"Decrease in dyslipidemia\u00a0\u00a0\u00a0\u00a0 Increase in dyslipidemia"}},"x2":{"datum":40},"y":{"datum":5.6,"type":"quantitative","axis":null}}},
{"data":{"name":"tC"},"mark":{"type":"rule","color":"black","strokeWidth":1},"encoding":{"x":{"field":"t","type":"quantitative","axis":{"values":[-40,-20,0,20,40],"format":"~r","labelOverlap":false,"labelFlush":false,"domain":true,"ticks":true,"title":"Decrease in dyslipidemia\u00a0\u00a0\u00a0\u00a0 Increase in dyslipidemia"}},"y":{"datum":5.6,"type":"quantitative","axis":null},"y2":{"datum":6.08}}},
{"data":{"name":"bopT"},"mark":{"type":"rule","color":"black","strokeWidth":1},"encoding":{"x":{"datum":0,"type":"quantitative","axis":{"values":[-40,-20,0,20,40],"format":"~r","labelOverlap":false,"labelFlush":false,"domain":true,"ticks":true,"title":"Decrease in dyslipidemia\u00a0\u00a0\u00a0\u00a0 Increase in dyslipidemia"}},"y":{"datum":-0.6,"type":"quantitative","axis":null},"y2":{"datum":5.6}}},
{"data":{"name":"bopT"},"mark":{"type":"rule","color":"#666","strokeWidth":1,"strokeDash":[1.5,1.5]},"encoding":{"x":{"field":"md","type":"quantitative","axis":{"values":[-40,-20,0,20,40],"format":"~r","labelOverlap":false,"labelFlush":false,"domain":true,"ticks":true,"title":"Decrease in dyslipidemia\u00a0\u00a0\u00a0\u00a0 Increase in dyslipidemia"}},"y":{"datum":-0.6,"type":"quantitative","axis":null},"y2":{"datum":5}}},
{"data":{"name":"bop"},"mark":{"type":"point","shape":"square","filled":true,"color":"#00e600","opacity":1},"encoding":{"x":{"field":"md","type":"quantitative","axis":{"values":[-40,-20,0,20,40],"format":"~r","labelOverlap":false,"labelFlush":false,"domain":true,"ticks":true,"title":"Decrease in dyslipidemia\u00a0\u00a0\u00a0\u00a0 Increase in dyslipidemia"}},"y":{"field":"order","type":"quantitative","axis":null},"size":{"field":"w","type":"quantitative","scale":{"domain":[0,0.261],"range":[0,115]},"legend":null}}},
{"data":{"name":"bop"},"mark":{"type":"tick","orient":"vertical","color":"black","size":4,"thickness":1,"opacity":1},"encoding":{"x":{"field":"md","type":"quantitative","axis":{"values":[-40,-20,0,20,40],"format":"~r","labelOverlap":false,"labelFlush":false,"domain":true,"ticks":true,"title":"Decrease in dyslipidemia\u00a0\u00a0\u00a0\u00a0 Increase in dyslipidemia"}},"y":{"field":"order","type":"quantitative","axis":null}}},
{"data":{"name":"bopT"},"transform":[{"fold":["lo","md","hi"],"as":["k","v"]}],"mark":{"type":"trail","color":"black"},"encoding":{"x":{"field":"v","type":"quantitative","axis":{"values":[-40,-20,0,20,40],"format":"~r","labelOverlap":false,"labelFlush":false,"domain":true,"ticks":true,"title":"Decrease in dyslipidemia\u00a0\u00a0\u00a0\u00a0 Increase in dyslipidemia"}},"y":{"datum":5,"type":"quantitative","axis":null},"size":{"condition":{"test":"datum.k === 'md'","value":7},"value":0}}},
{"data":{"name":"bopT"},"mark":{"type":"text","align":"center","fontWeight":"bold"},"encoding":{"x":{"datum":0,"type":"quantitative","axis":{"values":[-40,-20,0,20,40],"format":"~r","labelOverlap":false,"labelFlush":false,"domain":true,"ticks":true,"title":"Decrease in dyslipidemia\u00a0\u00a0\u00a0\u00a0 Increase in dyslipidemia"}},"y":{"datum":-1.92,"type":"quantitative","axis":null},"text":{"value":"Mean Difference"}}},
{"data":{"name":"bopT"},"mark":{"type":"text","align":"center","fontWeight":"bold"},"encoding":{"x":{"datum":0,"type":"quantitative","axis":{"values":[-40,-20,0,20,40],"format":"~r","labelOverlap":false,"labelFlush":false,"domain":true,"ticks":true,"title":"Decrease in dyslipidemia\u00a0\u00a0\u00a0\u00a0 Increase in dyslipidemia"}},"y":{"datum":-1,"type":"quantitative","axis":null},"text":{"value":"IV, Random, 95% CI"}}}
]},

{"width":466.7,"height":162.65,"data":{"name":"pi"},
"layer":[
{"mark":{"type":"text","align":"left"},"encoding":{"x":{"datum":30,"type":"quantitative","scale":{"domain":[0,466.7],"nice":false,"zero":false},"axis":null},"y":{"field":"order","type":"quantitative","scale":{"domain":[-4.464,8.6],"reverse":true,"nice":false,"zero":false},"axis":null},"text":{"field":"study"}}},
{"mark":"text","encoding":{"x":{"datum":173,"type":"quantitative","axis":null},"y":{"field":"order","type":"quantitative","axis":null},"text":{"field":"m1","format":".2f"}}},
{"mark":"text","encoding":{"x":{"datum":199,"type":"quantitative","axis":null},"y":{"field":"order","type":"quantitative","axis":null},"text":{"field":"sd1","format":".2f"}}},
{"mark":"text","encoding":{"x":{"datum":228,"type":"quantitative","axis":null},"y":{"field":"order","type":"quantitative","axis":null},"text":{"field":"n1"}}},
{"mark":"text","encoding":{"x":{"datum":259,"type":"quantitative","axis":null},"y":{"field":"order","type":"quantitative","axis":null},"text":{"field":"m2","format":".2f"}}},
{"mark":"text","encoding":{"x":{"datum":285,"type":"quantitative","axis":null},"y":{"field":"order","type":"quantitative","axis":null},"text":{"field":"sd2","format":".2f"}}},
{"mark":"text","encoding":{"x":{"datum":313,"type":"quantitative","axis":null},"y":{"field":"order","type":"quantitative","axis":null},"text":{"field":"n2"}}},
{"mark":"text","encoding":{"x":{"datum":353,"type":"quantitative","axis":null},"y":{"field":"order","type":"quantitative","axis":null},"text":{"field":"w","format":".1%"}}},
{"mark":"text","encoding":{"x":{"datum":453,"type":"quantitative","axis":null},"y":{"field":"order","type":"quantitative","axis":null},"text":{"field":"ci"}}},
{"data":{"name":"piT"},"mark":{"type":"text","align":"left","fontWeight":"bold","fontSize":14},"encoding":{"x":{"datum":2,"type":"quantitative","axis":null},"y":{"datum":-4.1,"type":"quantitative","axis":null},"text":{"value":"(d)"}}},
{"data":{"name":"piT"},"mark":{"type":"text","align":"left","fontWeight":"bold","fontSize":9.5},"encoding":{"x":{"datum":25,"type":"quantitative","axis":null},"y":{"datum":-4.1,"type":"quantitative","axis":null},"text":{"value":"PI"}}},
{"data":{"name":"piT"},"mark":{"type":"text","align":"center","fontWeight":"bold"},"encoding":{"x":{"datum":186.7,"type":"quantitative","axis":null},"y":{"datum":-2.2,"type":"quantitative","axis":null},"text":{"value":"Dyslipidemia"}}},
{"data":{"name":"piT"},"mark":{"type":"text","align":"center","fontWeight":"bold"},"encoding":{"x":{"datum":274.3,"type":"quantitative","axis":null},"y":{"datum":-2.2,"type":"quantitative","axis":null},"text":{"value":"Control"}}},
{"data":{"name":"piT"},"mark":{"type":"text","align":"center","fontWeight":"bold"},"encoding":{"x":{"datum":407.5,"type":"quantitative","axis":null},"y":{"datum":-1.92,"type":"quantitative","axis":null},"text":{"value":"Mean Difference"}}},
{"data":{"name":"piT"},"mark":{"type":"text","align":"left","fontWeight":"bold"},"encoding":{"x":{"datum":30,"type":"quantitative","axis":null},"y":{"datum":-1,"type":"quantitative","axis":null},"text":{"value":"Study"}}},
{"data":{"name":"piT"},"mark":{"type":"text","fontWeight":"bold"},"encoding":{"x":{"datum":173,"type":"quantitative","axis":null},"y":{"datum":-1,"type":"quantitative","axis":null},"text":{"value":"Mean"}}},
{"data":{"name":"piT"},"mark":{"type":"text","fontWeight":"bold"},"encoding":{"x":{"datum":199,"type":"quantitative","axis":null},"y":{"datum":-1,"type":"quantitative","axis":null},"text":{"value":"SD"}}},
{"data":{"name":"piT"},"mark":{"type":"text","fontWeight":"bold"},"encoding":{"x":{"datum":228,"type":"quantitative","axis":null},"y":{"datum":-1,"type":"quantitative","axis":null},"text":{"value":"Total"}}},
{"data":{"name":"piT"},"mark":{"type":"text","fontWeight":"bold"},"encoding":{"x":{"datum":259,"type":"quantitative","axis":null},"y":{"datum":-1,"type":"quantitative","axis":null},"text":{"value":"Mean"}}},
{"data":{"name":"piT"},"mark":{"type":"text","fontWeight":"bold"},"encoding":{"x":{"datum":285,"type":"quantitative","axis":null},"y":{"datum":-1,"type":"quantitative","axis":null},"text":{"value":"SD"}}},
{"data":{"name":"piT"},"mark":{"type":"text","fontWeight":"bold"},"encoding":{"x":{"datum":313,"type":"quantitative","axis":null},"y":{"datum":-1,"type":"quantitative","axis":null},"text":{"value":"Total"}}},
{"data":{"name":"piT"},"mark":{"type":"text","fontWeight":"bold"},"encoding":{"x":{"datum":353,"type":"quantitative","axis":null},"y":{"datum":-1,"type":"quantitative","axis":null},"text":{"value":"Weight"}}},
{"data":{"name":"piT"},"mark":{"type":"text","align":"center","fontWeight":"bold"},"encoding":{"x":{"datum":407.5,"type":"quantitative","axis":null},"y":{"datum":-1,"type":"quantitative","axis":null},"text":{"value":"IV, Random, 95% CI"}}},
{"data":{"name":"piT"},"mark":{"type":"text","align":"left","fontWeight":"bold"},"encoding":{"x":{"datum":30,"type":"quantitative","axis":null},"y":{"datum":8,"type":"quantitative","axis":null},"text":{"value":"Total (95% CI)"}}},
{"data":{"name":"piT"},"mark":{"type":"text","fontWeight":"bold"},"encoding":{"x":{"datum":228,"type":"quantitative","axis":null},"y":{"datum":8,"type":"quantitative","axis":null},"text":{"field":"n1"}}},
{"data":{"name":"piT"},"mark":{"type":"text","fontWeight":"bold"},"encoding":{"x":{"datum":313,"type":"quantitative","axis":null},"y":{"datum":8,"type":"quantitative","axis":null},"text":{"field":"n2"}}},
{"data":{"name":"piT"},"mark":{"type":"text","fontWeight":"bold"},"encoding":{"x":{"datum":353,"type":"quantitative","axis":null},"y":{"datum":8,"type":"quantitative","axis":null},"text":{"field":"w","format":".1%"}}},
{"data":{"name":"piT"},"mark":{"type":"text","fontWeight":"bold"},"encoding":{"x":{"datum":453,"type":"quantitative","axis":null},"y":{"datum":8,"type":"quantitative","axis":null},"text":{"field":"ci"}}},
{"data":{"name":"piT"},"mark":{"type":"text","align":"left","fontSize":9.5},"encoding":{"x":{"datum":30,"type":"quantitative","axis":null},"y":{"datum":9.02,"type":"quantitative","axis":null},"text":{"field":"het"}}},
{"data":{"name":"piT"},"mark":{"type":"text","align":"left","fontSize":9.5},"encoding":{"x":{"datum":30,"type":"quantitative","axis":null},"y":{"datum":9.95,"type":"quantitative","axis":null},"text":{"field":"test"}}}
]},
{"width":186.3,"height":162.65,
"layer":[
{"data":{"name":"pi"},"mark":{"type":"rule","color":"#222","strokeWidth":1},"encoding":{"x":{"field":"lo","type":"quantitative","scale":{"domain":[-1,1],"range":[0,135.6],"nice":false,"zero":false},"axis":{"values":[-1,-0.5,0,0.5,1],"format":"~r","labelOverlap":false,"labelFlush":false,"domain":true,"ticks":true,"title":"Decrease in dyslipidemia\u00a0\u00a0\u00a0\u00a0 Increase in dyslipidemia"}},"x2":{"field":"hi"},"y":{"field":"order","type":"quantitative","scale":{"domain":[-4.464,8.6],"reverse":true,"nice":false,"zero":false},"axis":null}}},
{"data":{"name":"piT"},"mark":{"type":"rule","color":"black","strokeWidth":1},"encoding":{"x":{"datum":-1,"type":"quantitative","axis":{"values":[-1,-0.5,0,0.5,1],"format":"~r","labelOverlap":false,"labelFlush":false,"domain":true,"ticks":true,"title":"Decrease in dyslipidemia\u00a0\u00a0\u00a0\u00a0 Increase in dyslipidemia"}},"x2":{"datum":1},"y":{"datum":8.6,"type":"quantitative","axis":null}}},
{"data":{"name":"tD"},"mark":{"type":"rule","color":"black","strokeWidth":1},"encoding":{"x":{"field":"t","type":"quantitative","axis":{"values":[-1,-0.5,0,0.5,1],"format":"~r","labelOverlap":false,"labelFlush":false,"domain":true,"ticks":true,"title":"Decrease in dyslipidemia\u00a0\u00a0\u00a0\u00a0 Increase in dyslipidemia"}},"y":{"datum":8.6,"type":"quantitative","axis":null},"y2":{"datum":9.08}}},
{"data":{"name":"piT"},"mark":{"type":"rule","color":"black","strokeWidth":1},"encoding":{"x":{"datum":0,"type":"quantitative","axis":{"values":[-1,-0.5,0,0.5,1],"format":"~r","labelOverlap":false,"labelFlush":false,"domain":true,"ticks":true,"title":"Decrease in dyslipidemia\u00a0\u00a0\u00a0\u00a0 Increase in dyslipidemia"}},"y":{"datum":-0.6,"type":"quantitative","axis":null},"y2":{"datum":8.6}}},
{"data":{"name":"piT"},"mark":{"type":"rule","color":"#666","strokeWidth":1,"strokeDash":[1.5,1.5]},"encoding":{"x":{"field":"md","type":"quantitative","axis":{"values":[-1,-0.5,0,0.5,1],"format":"~r","labelOverlap":false,"labelFlush":false,"domain":true,"ticks":true,"title":"Decrease in dyslipidemia\u00a0\u00a0\u00a0\u00a0 Increase in dyslipidemia"}},"y":{"datum":-0.6,"type":"quantitative","axis":null},"y2":{"datum":8}}},
{"data":{"name":"pi"},"mark":{"type":"point","shape":"square","filled":true,"color":"#00e600","opacity":1},"encoding":{"x":{"field":"md","type":"quantitative","axis":{"values":[-1,-0.5,0,0.5,1],"format":"~r","labelOverlap":false,"labelFlush":false,"domain":true,"ticks":true,"title":"Decrease in dyslipidemia\u00a0\u00a0\u00a0\u00a0 Increase in dyslipidemia"}},"y":{"field":"order","type":"quantitative","axis":null},"size":{"field":"w","type":"quantitative","scale":{"domain":[0,0.178],"range":[0,100]},"legend":null}}},
{"data":{"name":"pi"},"mark":{"type":"tick","orient":"vertical","color":"black","size":4,"thickness":1,"opacity":1},"encoding":{"x":{"field":"md","type":"quantitative","axis":{"values":[-1,-0.5,0,0.5,1],"format":"~r","labelOverlap":false,"labelFlush":false,"domain":true,"ticks":true,"title":"Decrease in dyslipidemia\u00a0\u00a0\u00a0\u00a0 Increase in dyslipidemia"}},"y":{"field":"order","type":"quantitative","axis":null}}},
{"data":{"name":"piT"},"transform":[{"fold":["lo","md","hi"],"as":["k","v"]}],"mark":{"type":"trail","color":"black"},"encoding":{"x":{"field":"v","type":"quantitative","axis":{"values":[-1,-0.5,0,0.5,1],"format":"~r","labelOverlap":false,"labelFlush":false,"domain":true,"ticks":true,"title":"Decrease in dyslipidemia\u00a0\u00a0\u00a0\u00a0 Increase in dyslipidemia"}},"y":{"datum":8,"type":"quantitative","axis":null},"size":{"condition":{"test":"datum.k === 'md'","value":6},"value":0}}},
{"data":{"name":"piT"},"mark":{"type":"text","align":"center","fontWeight":"bold"},"encoding":{"x":{"datum":0,"type":"quantitative","axis":{"values":[-1,-0.5,0,0.5,1],"format":"~r","labelOverlap":false,"labelFlush":false,"domain":true,"ticks":true,"title":"Decrease in dyslipidemia\u00a0\u00a0\u00a0\u00a0 Increase in dyslipidemia"}},"y":{"datum":-1.92,"type":"quantitative","axis":null},"text":{"value":"Mean Difference"}}},
{"data":{"name":"piT"},"mark":{"type":"text","align":"center","fontWeight":"bold"},"encoding":{"x":{"datum":0,"type":"quantitative","axis":{"values":[-1,-0.5,0,0.5,1],"format":"~r","labelOverlap":false,"labelFlush":false,"domain":true,"ticks":true,"title":"Decrease in dyslipidemia\u00a0\u00a0\u00a0\u00a0 Increase in dyslipidemia"}},"y":{"datum":-1,"type":"quantitative","axis":null},"text":{"value":"IV, Random, 95% CI"}}}
]},

{"width":466.7,"height":140.1,"data":{"name":"gi"},
"layer":[
{"mark":{"type":"text","align":"left"},"encoding":{"x":{"datum":30,"type":"quantitative","scale":{"domain":[0,466.7],"nice":false,"zero":false},"axis":null},"y":{"field":"order","type":"quantitative","scale":{"domain":[-4.653,6.6],"reverse":true,"nice":false,"zero":false},"axis":null},"text":{"field":"study"}}},
{"mark":"text","encoding":{"x":{"datum":173,"type":"quantitative","axis":null},"y":{"field":"order","type":"quantitative","axis":null},"text":{"field":"m1","format":".2f"}}},
{"mark":"text","encoding":{"x":{"datum":199,"type":"quantitative","axis":null},"y":{"field":"order","type":"quantitative","axis":null},"text":{"field":"sd1","format":".2f"}}},
{"mark":"text","encoding":{"x":{"datum":228,"type":"quantitative","axis":null},"y":{"field":"order","type":"quantitative","axis":null},"text":{"field":"n1"}}},
{"mark":"text","encoding":{"x":{"datum":259,"type":"quantitative","axis":null},"y":{"field":"order","type":"quantitative","axis":null},"text":{"field":"m2","format":".2f"}}},
{"mark":"text","encoding":{"x":{"datum":285,"type":"quantitative","axis":null},"y":{"field":"order","type":"quantitative","axis":null},"text":{"field":"sd2","format":".2f"}}},
{"mark":"text","encoding":{"x":{"datum":313,"type":"quantitative","axis":null},"y":{"field":"order","type":"quantitative","axis":null},"text":{"field":"n2"}}},
{"mark":"text","encoding":{"x":{"datum":353,"type":"quantitative","axis":null},"y":{"field":"order","type":"quantitative","axis":null},"text":{"field":"w","format":".1%"}}},
{"mark":"text","encoding":{"x":{"datum":449,"type":"quantitative","axis":null},"y":{"field":"order","type":"quantitative","axis":null},"text":{"field":"ci"}}},
{"data":{"name":"giT"},"mark":{"type":"text","align":"left","fontWeight":"bold","fontSize":14},"encoding":{"x":{"datum":2,"type":"quantitative","axis":null},"y":{"datum":-3.56,"type":"quantitative","axis":null},"text":{"value":"(e)"}}},
{"data":{"name":"giT"},"mark":{"type":"text","align":"left","fontWeight":"bold","fontSize":9.5},"encoding":{"x":{"datum":25,"type":"quantitative","axis":null},"y":{"datum":-3.56,"type":"quantitative","axis":null},"text":{"value":"GI"}}},
{"data":{"name":"giT"},"mark":{"type":"text","align":"center","fontWeight":"bold"},"encoding":{"x":{"datum":186.7,"type":"quantitative","axis":null},"y":{"datum":-2.2,"type":"quantitative","axis":null},"text":{"value":"Dyslipidemia"}}},
{"data":{"name":"giT"},"mark":{"type":"text","align":"center","fontWeight":"bold"},"encoding":{"x":{"datum":274.3,"type":"quantitative","axis":null},"y":{"datum":-2.2,"type":"quantitative","axis":null},"text":{"value":"Control"}}},
{"data":{"name":"giT"},"mark":{"type":"text","align":"center","fontWeight":"bold"},"encoding":{"x":{"datum":407.5,"type":"quantitative","axis":null},"y":{"datum":-1.92,"type":"quantitative","axis":null},"text":{"value":"Mean Difference"}}},
{"data":{"name":"giT"},"mark":{"type":"text","align":"left","fontWeight":"bold"},"encoding":{"x":{"datum":30,"type":"quantitative","axis":null},"y":{"datum":-1,"type":"quantitative","axis":null},"text":{"value":"Study"}}},
{"data":{"name":"giT"},"mark":{"type":"text","fontWeight":"bold"},"encoding":{"x":{"datum":173,"type":"quantitative","axis":null},"y":{"datum":-1,"type":"quantitative","axis":null},"text":{"value":"Mean"}}},
{"data":{"name":"giT"},"mark":{"type":"text","fontWeight":"bold"},"encoding":{"x":{"datum":199,"type":"quantitative","axis":null},"y":{"datum":-1,"type":"quantitative","axis":null},"text":{"value":"SD"}}},
{"data":{"name":"giT"},"mark":{"type":"text","fontWeight":"bold"},"encoding":{"x":{"datum":228,"type":"quantitative","axis":null},"y":{"datum":-1,"type":"quantitative","axis":null},"text":{"value":"Total"}}},
{"data":{"name":"giT"},"mark":{"type":"text","fontWeight":"bold"},"encoding":{"x":{"datum":259,"type":"quantitative","axis":null},"y":{"datum":-1,"type":"quantitative","axis":null},"text":{"value":"Mean"}}},
{"data":{"name":"giT"},"mark":{"type":"text","fontWeight":"bold"},"encoding":{"x":{"datum":285,"type":"quantitative","axis":null},"y":{"datum":-1,"type":"quantitative","axis":null},"text":{"value":"SD"}}},
{"data":{"name":"giT"},"mark":{"type":"text","fontWeight":"bold"},"encoding":{"x":{"datum":313,"type":"quantitative","axis":null},"y":{"datum":-1,"type":"quantitative","axis":null},"text":{"value":"Total"}}},
{"data":{"name":"giT"},"mark":{"type":"text","fontWeight":"bold"},"encoding":{"x":{"datum":353,"type":"quantitative","axis":null},"y":{"datum":-1,"type":"quantitative","axis":null},"text":{"value":"Weight"}}},
{"data":{"name":"giT"},"mark":{"type":"text","align":"center","fontWeight":"bold"},"encoding":{"x":{"datum":407.5,"type":"quantitative","axis":null},"y":{"datum":-1,"type":"quantitative","axis":null},"text":{"value":"IV, Random, 95% CI"}}},
{"data":{"name":"giT"},"mark":{"type":"text","align":"left","fontWeight":"bold"},"encoding":{"x":{"datum":30,"type":"quantitative","axis":null},"y":{"datum":6,"type":"quantitative","axis":null},"text":{"value":"Total (95% CI)"}}},
{"data":{"name":"giT"},"mark":{"type":"text","fontWeight":"bold"},"encoding":{"x":{"datum":228,"type":"quantitative","axis":null},"y":{"datum":6,"type":"quantitative","axis":null},"text":{"field":"n1"}}},
{"data":{"name":"giT"},"mark":{"type":"text","fontWeight":"bold"},"encoding":{"x":{"datum":313,"type":"quantitative","axis":null},"y":{"datum":6,"type":"quantitative","axis":null},"text":{"field":"n2"}}},
{"data":{"name":"giT"},"mark":{"type":"text","fontWeight":"bold"},"encoding":{"x":{"datum":353,"type":"quantitative","axis":null},"y":{"datum":6,"type":"quantitative","axis":null},"text":{"field":"w","format":".1%"}}},
{"data":{"name":"giT"},"mark":{"type":"text","fontWeight":"bold"},"encoding":{"x":{"datum":449,"type":"quantitative","axis":null},"y":{"datum":6,"type":"quantitative","axis":null},"text":{"field":"ci"}}},
{"data":{"name":"giT"},"mark":{"type":"text","align":"left","fontSize":9.5},"encoding":{"x":{"datum":30,"type":"quantitative","axis":null},"y":{"datum":7.02,"type":"quantitative","axis":null},"text":{"field":"het"}}},
{"data":{"name":"giT"},"mark":{"type":"text","align":"left","fontSize":9.5},"encoding":{"x":{"datum":30,"type":"quantitative","axis":null},"y":{"datum":7.95,"type":"quantitative","axis":null},"text":{"field":"test"}}}
]},
{"width":186.3,"height":140.1,
"layer":[
{"data":{"name":"gi"},"mark":{"type":"rule","color":"#222","strokeWidth":1},"encoding":{"x":{"field":"lo","type":"quantitative","scale":{"domain":[-0.6,0.6],"range":[1,134.6],"nice":false,"zero":false},"axis":{"values":[-0.6,-0.4,-0.2,0,0.2,0.4,0.6],"format":"~r","labelOverlap":false,"labelFlush":false,"domain":true,"ticks":true,"title":"Decrease in dyslipidemia\u00a0\u00a0\u00a0\u00a0 Increase in dyslipidemia"}},"x2":{"field":"hi"},"y":{"field":"order","type":"quantitative","scale":{"domain":[-4.653,6.6],"reverse":true,"nice":false,"zero":false},"axis":null}}},
{"data":{"name":"giT"},"mark":{"type":"rule","color":"black","strokeWidth":1},"encoding":{"x":{"datum":-0.6,"type":"quantitative","axis":{"values":[-0.6,-0.4,-0.2,0,0.2,0.4,0.6],"format":"~r","labelOverlap":false,"labelFlush":false,"domain":true,"ticks":true,"title":"Decrease in dyslipidemia\u00a0\u00a0\u00a0\u00a0 Increase in dyslipidemia"}},"x2":{"datum":0.6},"y":{"datum":6.6,"type":"quantitative","axis":null}}},
{"data":{"name":"tE"},"mark":{"type":"rule","color":"black","strokeWidth":1},"encoding":{"x":{"field":"t","type":"quantitative","axis":{"values":[-0.6,-0.4,-0.2,0,0.2,0.4,0.6],"format":"~r","labelOverlap":false,"labelFlush":false,"domain":true,"ticks":true,"title":"Decrease in dyslipidemia\u00a0\u00a0\u00a0\u00a0 Increase in dyslipidemia"}},"y":{"datum":6.6,"type":"quantitative","axis":null},"y2":{"datum":7.08}}},
{"data":{"name":"giT"},"mark":{"type":"rule","color":"black","strokeWidth":1},"encoding":{"x":{"datum":0,"type":"quantitative","axis":{"values":[-0.6,-0.4,-0.2,0,0.2,0.4,0.6],"format":"~r","labelOverlap":false,"labelFlush":false,"domain":true,"ticks":true,"title":"Decrease in dyslipidemia\u00a0\u00a0\u00a0\u00a0 Increase in dyslipidemia"}},"y":{"datum":-0.6,"type":"quantitative","axis":null},"y2":{"datum":6.6}}},
{"data":{"name":"giT"},"mark":{"type":"rule","color":"#666","strokeWidth":1,"strokeDash":[1.5,1.5]},"encoding":{"x":{"field":"md","type":"quantitative","axis":{"values":[-0.6,-0.4,-0.2,0,0.2,0.4,0.6],"format":"~r","labelOverlap":false,"labelFlush":false,"domain":true,"ticks":true,"title":"Decrease in dyslipidemia\u00a0\u00a0\u00a0\u00a0 Increase in dyslipidemia"}},"y":{"datum":-0.6,"type":"quantitative","axis":null},"y2":{"datum":6}}},
{"data":{"name":"gi"},"mark":{"type":"point","shape":"square","filled":true,"color":"#00e600","opacity":1},"encoding":{"x":{"field":"md","type":"quantitative","axis":{"values":[-0.6,-0.4,-0.2,0,0.2,0.4,0.6],"format":"~r","labelOverlap":false,"labelFlush":false,"domain":true,"ticks":true,"title":"Decrease in dyslipidemia\u00a0\u00a0\u00a0\u00a0 Increase in dyslipidemia"}},"y":{"field":"order","type":"quantitative","axis":null},"size":{"field":"w","type":"quantitative","scale":{"domain":[0,0.249],"range":[0,115]},"legend":null}}},
{"data":{"name":"gi"},"mark":{"type":"tick","orient":"vertical","color":"black","size":4,"thickness":1,"opacity":1},"encoding":{"x":{"field":"md","type":"quantitative","axis":{"values":[-0.6,-0.4,-0.2,0,0.2,0.4,0.6],"format":"~r","labelOverlap":false,"labelFlush":false,"domain":true,"ticks":true,"title":"Decrease in dyslipidemia\u00a0\u00a0\u00a0\u00a0 Increase in dyslipidemia"}},"y":{"field":"order","type":"quantitative","axis":null}}},
{"data":{"name":"giT"},"transform":[{"fold":["lo","md","hi"],"as":["k","v"]}],"mark":{"type":"trail","color":"black"},"encoding":{"x":{"field":"v","type":"quantitative","axis":{"values":[-0.6,-0.4,-0.2,0,0.2,0.4,0.6],"format":"~r","labelOverlap":false,"labelFlush":false,"domain":true,"ticks":true,"title":"Decrease in dyslipidemia\u00a0\u00a0\u00a0\u00a0 Increase in dyslipidemia"}},"y":{"datum":6,"type":"quantitative","axis":null},"size":{"condition":{"test":"datum.k === 'md'","value":6},"value":0}}},
{"data":{"name":"giT"},"mark":{"type":"text","align":"center","fontWeight":"bold"},"encoding":{"x":{"datum":0,"type":"quantitative","axis":{"values":[-0.6,-0.4,-0.2,0,0.2,0.4,0.6],"format":"~r","labelOverlap":false,"labelFlush":false,"domain":true,"ticks":true,"title":"Decrease in dyslipidemia\u00a0\u00a0\u00a0\u00a0 Increase in dyslipidemia"}},"y":{"datum":-1.92,"type":"quantitative","axis":null},"text":{"value":"Mean Difference"}}},
{"data":{"name":"giT"},"mark":{"type":"text","align":"center","fontWeight":"bold"},"encoding":{"x":{"datum":0,"type":"quantitative","axis":{"values":[-0.6,-0.4,-0.2,0,0.2,0.4,0.6],"format":"~r","labelOverlap":false,"labelFlush":false,"domain":true,"ticks":true,"title":"Decrease in dyslipidemia\u00a0\u00a0\u00a0\u00a0 Increase in dyslipidemia"}},"y":{"datum":-1,"type":"quantitative","axis":null},"text":{"value":"IV, Random, 95% CI"}}}
]}
]
}
